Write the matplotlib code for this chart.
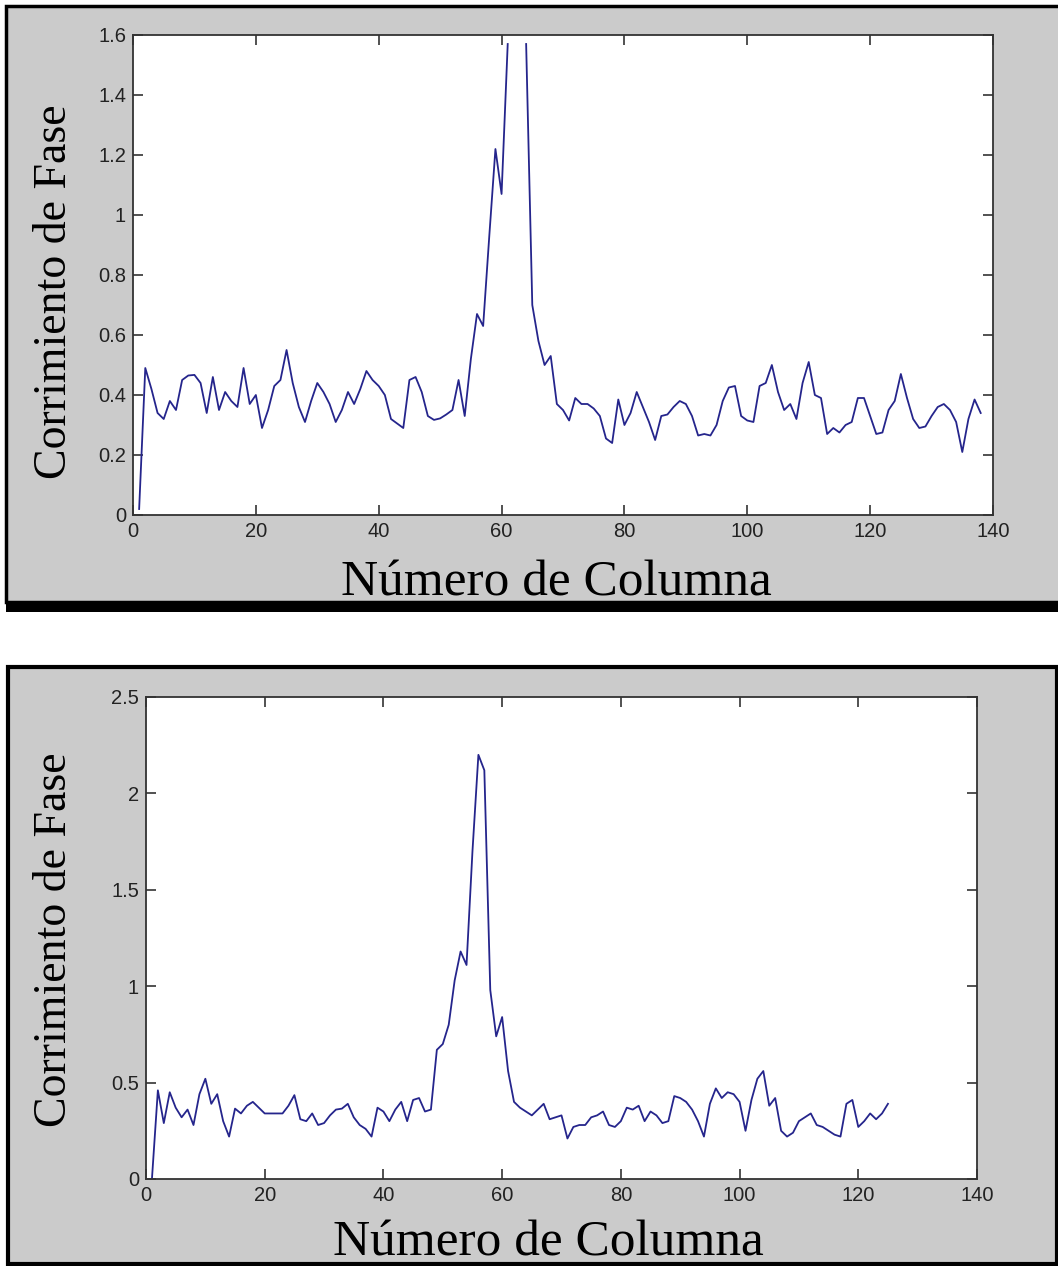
import numpy as np
import matplotlib
matplotlib.use('Agg')
import matplotlib.pyplot as plt
from matplotlib.patches import Rectangle

# Corrimiento de fase, primer perfil (columnas 1..138)
fase_1 = [0.02, 0.49, 0.42, 0.34, 0.32, 0.38, 0.35, 0.45, 0.465, 0.467,
          0.44, 0.34, 0.46, 0.35, 0.41, 0.38, 0.36, 0.49, 0.37, 0.40,
          0.29, 0.35, 0.43, 0.45, 0.55, 0.44, 0.36, 0.31, 0.38, 0.44,
          0.41, 0.37, 0.31, 0.35, 0.41, 0.37, 0.42, 0.48, 0.45, 0.43,
          0.40, 0.32, 0.305, 0.29, 0.45, 0.46, 0.41, 0.33, 0.317, 0.322,
          0.335, 0.35, 0.45, 0.33, 0.52, 0.67, 0.63, 0.93, 1.22, 1.07,
          1.57, np.nan, np.nan, 1.57, 0.70, 0.58, 0.50, 0.53, 0.37, 0.35,
          0.315, 0.39, 0.37, 0.37, 0.355, 0.33, 0.255, 0.24, 0.385, 0.30,
          0.34, 0.41, 0.36, 0.31, 0.25, 0.33, 0.335, 0.36, 0.38, 0.37,
          0.33, 0.265, 0.27, 0.265, 0.30, 0.38, 0.425, 0.43, 0.33, 0.315,
          0.31, 0.43, 0.44, 0.50, 0.41, 0.35, 0.37, 0.32, 0.44, 0.51,
          0.40, 0.39, 0.27, 0.29, 0.275, 0.30, 0.31, 0.39, 0.39, 0.33,
          0.27, 0.275, 0.35, 0.38, 0.47, 0.39, 0.32, 0.29, 0.295, 0.33,
          0.36, 0.37, 0.35, 0.31, 0.21, 0.32, 0.385, 0.34]
col_1 = np.arange(1, len(fase_1) + 1)

# Corrimiento de fase, segundo perfil (columnas 1..125)
fase_2 = [0.0, 0.46, 0.29, 0.45, 0.37, 0.32, 0.36, 0.28, 0.44, 0.52,
          0.39, 0.44, 0.30, 0.22, 0.365, 0.34, 0.38, 0.40, 0.37, 0.34,
          0.34, 0.34, 0.34, 0.38, 0.435, 0.31, 0.30, 0.34, 0.28, 0.29,
          0.33, 0.36, 0.365, 0.39, 0.32, 0.28, 0.26, 0.22, 0.37, 0.35,
          0.30, 0.36, 0.40, 0.30, 0.41, 0.42, 0.35, 0.36, 0.67, 0.70,
          0.80, 1.03, 1.18, 1.11, 1.70, 2.20, 2.12, 0.98, 0.74, 0.84,
          0.56, 0.40, 0.37, 0.35, 0.33, 0.36, 0.39, 0.31, 0.32, 0.33,
          0.21, 0.27, 0.28, 0.28, 0.32, 0.33, 0.35, 0.28, 0.27, 0.30,
          0.37, 0.36, 0.38, 0.30, 0.35, 0.33, 0.29, 0.30, 0.43, 0.42,
          0.40, 0.36, 0.30, 0.22, 0.39, 0.47, 0.42, 0.45, 0.44, 0.40,
          0.25, 0.41, 0.52, 0.56, 0.38, 0.42, 0.25, 0.22, 0.24, 0.30,
          0.32, 0.34, 0.28, 0.27, 0.25, 0.23, 0.22, 0.39, 0.41, 0.27,
          0.30, 0.34, 0.31, 0.34, 0.39]
col_2 = np.arange(1, len(fase_2) + 1)

xticks = [0, 20, 40, 60, 80, 100, 120, 140]
yticks_1 = [0, 0.2, 0.4, 0.6, 0.8, 1.0, 1.2, 1.4, 1.6]
ylabels_1 = ['0', '0.2', '0.4', '0.6', '0.8', '1', '1.2', '1.4', '1.6']
yticks_2 = [0, 0.5, 1.0, 1.5, 2.0, 2.5]
ylabels_2 = ['0', '0.5', '1', '1.5', '2', '2.5']

gris = '#cbcbcb'
azul = '#25258c'
W, H = 1058, 1266

fig = plt.figure(figsize=(W / 100, H / 100), dpi=100)
fig.patch.set_facecolor('white')

# paneles grises con borde negro
fig.add_artist(Rectangle((6 / W, 1 - 602 / H), 1.0, (602 - 6) / H,
                         transform=fig.transFigure, facecolor=gris,
                         edgecolor='black', linewidth=2.5, zorder=0))
fig.add_artist(Rectangle((6 / W, 1 - 612 / H), 1.0, 10 / H,
                         transform=fig.transFigure, facecolor='black',
                         edgecolor='none', zorder=0))
fig.add_artist(Rectangle((8 / W, 1 - 1264 / H), (1057 - 8) / W, (1264 - 667) / H,
                         transform=fig.transFigure, facecolor=gris,
                         edgecolor='black', linewidth=3, zorder=0))

ax1 = fig.add_axes([133 / W, 1 - 515 / H, (993 - 133) / W, (515 - 35) / H])
ax2 = fig.add_axes([146 / W, 1 - 1179 / H, (977 - 146) / W, (1179 - 697) / H])

tick_font = ['Liberation Sans', 'DejaVu Sans']

for ax, x, y, yt, yl, ymax in [(ax1, col_1, fase_1, yticks_1, ylabels_1, 1.6),
                               (ax2, col_2, fase_2, yticks_2, ylabels_2, 2.5)]:
    ax.plot(x, y, color=azul, linewidth=1.3)
    ax.set_xlim(0, 140)
    ax.set_ylim(0, ymax)
    ax.set_xticks(xticks)
    ax.set_xticklabels([str(t) for t in xticks])
    ax.set_yticks(yt)
    ax.set_yticklabels(yl)
    ax.set_facecolor('white')
    ax.tick_params(direction='in', length=7, width=1.1, top=True, right=True,
                   labelsize=14.5, colors='#222222', pad=5)
    for lab in ax.get_xticklabels() + ax.get_yticklabels():
        lab.set_family(tick_font)
    for s in ax.spines.values():
        s.set_color('#333333')
        s.set_linewidth(1.3)

serif = ['Liberation Serif', 'DejaVu Serif']
fig.text(556 / W, 1 - 595 / H, 'Número de Columna', family=serif, fontsize=37,
         ha='center', va='baseline')
fig.text(548 / W, 1 - 1256 / H, 'Número de Columna', family=serif, fontsize=37,
         ha='center', va='baseline')
fig.text(55 / W, 1 - 292 / H, 'Corrimiento de Fase', family=serif, fontsize=33,
         rotation=90, ha='center', va='center')
fig.text(55 / W, 1 - 940 / H, 'Corrimiento de Fase', family=serif, fontsize=33,
         rotation=90, ha='center', va='center')

fig.savefig('out.png', dpi=100, facecolor='white')
